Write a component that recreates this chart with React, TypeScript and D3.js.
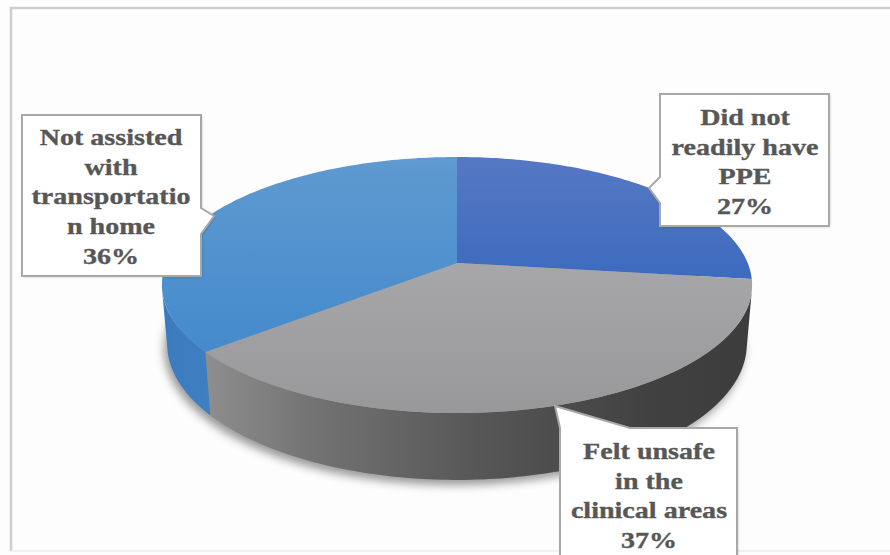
import React from "react";
import * as d3 from "d3";

// Survey responses, percent of respondents
const categories = [
  "Did not readily have PPE",
  "Felt unsafe in the clinical areas",
  "Not assisted with transportation home",
];
const values = [27, 37, 36];
// Wrapped label text for each category (the percentage line is appended from values)
const labelLines = [
  ["Did not", "readily have", "PPE"],
  ["Felt unsafe", "in the", "clinical areas"],
  ["Not assisted", "with", "transportatio", "n home"],
];

const W = 890;
const H = 555;

// Perspective camera for the tilted pie
const CX = 457;
const CY = 263;
const FX = 1532;
const FY = 1549;
const DIST = 5.27;
const ELEV = (25 * Math.PI) / 180;
const THICK = 0.2225;
const cosE = Math.cos(ELEV);
const sinE = Math.sin(ELEV);

function project(X: number, Y: number, Z: number): [number, number] {
  const d = DIST + Y * cosE - Z * sinE;
  return [CX + (FX * X) / d, CY - (FY * (Y * sinE + Z * cosE)) / d];
}
// angle a runs clockwise from 12 o'clock (far side of the disc)
const rim = (a: number, z: number): [number, number] =>
  project(Math.sin(a), Math.cos(a), z);

// the outer wall faces the camera where cos(a) < -1/(D cos e)
const visA0 = Math.acos(-1 / (DIST * cosE));
const visA1 = 2 * Math.PI - visA0;

const line = d3.line<[number, number]>().x((p) => p[0]).y((p) => p[1]);

function arcPts(a0: number, a1: number, z: number): [number, number][] {
  const n = Math.max(2, Math.ceil(((a1 - a0) * 180) / Math.PI));
  return d3.range(n + 1).map((i) => rim(a0 + ((a1 - a0) * i) / n, z));
}

const pie = d3
  .pie<number>()
  .sort(null)
  .startAngle(0)
  .endAngle(2 * Math.PI)
  .value((d) => d);
const slices = pie(values);

const topFill = ["url(#gTop0)", "url(#gTop1)", "url(#gTop2)"];
const wallFill = ["#3a68b8", "url(#gWall1)", "url(#gWall2)"];

// Callout boxes: body rectangle plus pointer outline
const callouts = [
  {
    cx: 745,
    y0: 125,
    path: "M660,94 L829,94 L829,226 L660,226 L660,203 L649,188 L660,177 Z",
  },
  {
    cx: 649,
    y0: 459,
    path: "M560,428 L555,406 L630,428 L737,428 L737,562 L560,562 Z",
  },
  {
    cx: 111,
    y0: 145,
    path: "M22,115 L201,115 L201,208 L214,216 L201,234 L201,276 L22,276 Z",
  },
];
const LINE_STEP = 29.7;

export default function App() {
  const walls = slices
    .map((s, i) => {
      const a0 = Math.max(s.startAngle, visA0);
      const a1 = Math.min(s.endAngle, visA1);
      if (a1 <= a0) return null;
      const pts = [...arcPts(a0, a1, 0), ...arcPts(a0, a1, -THICK).reverse()];
      return <path key={"w" + i} d={line(pts) + "Z"} fill={wallFill[i]} />;
    })
    .filter(Boolean);

  const tops = slices.map((s, i) => {
    const pts = [project(0, 0, 0), ...arcPts(s.startAngle, s.endAngle, 0)];
    return <path key={"t" + i} d={line(pts) + "Z"} fill={topFill[i]} />;
  });

  const shadowPts = arcPts(0, 2 * Math.PI, -THICK);

  return (
    <svg
      width={W}
      height={H}
      style={{ position: "absolute", left: 0, top: 0, background: "#fdfdfd" }}
    >
      <defs>
        <linearGradient id="gTop0" gradientUnits="userSpaceOnUse" x1="0" y1="157" x2="0" y2="285">
          <stop offset="0" stopColor="#5678c3" />
          <stop offset="1" stopColor="#3b6abe" />
        </linearGradient>
        <linearGradient id="gTop1" gradientUnits="userSpaceOnUse" x1="0" y1="263" x2="0" y2="415">
          <stop offset="0" stopColor="#a7a7a9" />
          <stop offset="1" stopColor="#98989a" />
        </linearGradient>
        <linearGradient id="gTop2" gradientUnits="userSpaceOnUse" x1="0" y1="157" x2="0" y2="355">
          <stop offset="0" stopColor="#5f9ad0" />
          <stop offset="1" stopColor="#448acc" />
        </linearGradient>
        <linearGradient id="gWall1" gradientUnits="userSpaceOnUse" x1="206" y1="0" x2="760" y2="0">
          <stop offset="0" stopColor="#8e8e8e" />
          <stop offset="0.2" stopColor="#727272" />
          <stop offset="0.5" stopColor="#565656" />
          <stop offset="0.8" stopColor="#414141" />
          <stop offset="1" stopColor="#3c3c3c" />
        </linearGradient>
        <linearGradient id="gWall2" gradientUnits="userSpaceOnUse" x1="160" y1="0" x2="215" y2="0">
          <stop offset="0" stopColor="#3b7abd" />
          <stop offset="1" stopColor="#3e80c3" />
        </linearGradient>
        <filter id="soft" x="-20%" y="-20%" width="140%" height="140%">
          <feGaussianBlur stdDeviation="5" />
        </filter>
        <filter id="boxShadow" x="-10%" y="-10%" width="120%" height="120%">
          <feGaussianBlur stdDeviation="1.5" />
        </filter>
      </defs>

      {/* chart area frame */}
      <path d="M11,551 L11,8 L900,8" fill="none" stroke="#cdcdcd" strokeWidth={2.5} />
      <line x1={11} y1={551} x2={900} y2={551} stroke="#ededed" strokeWidth={1.5} />

      {/* drop shadow under the disc */}
      <path
        d={line(shadowPts) + "Z"}
        transform="translate(-3,5)"
        fill="#000"
        opacity={0.4}
        filter="url(#soft)"
      />

      {walls}
      {tops}

      {callouts.map((c, i) => {
        const lines = [...labelLines[i], `${values[i]}%`];
        return (
          <g key={"c" + i}>
            <path d={c.path} fill="#000" opacity={0.18} transform="translate(1,1)" filter="url(#boxShadow)" />
            <path d={c.path} fill="#ffffff" stroke="#a8a8a8" strokeWidth={2} />
            <g transform={`translate(${c.cx},0) scale(1.17,1)`}>
              {lines.map((t, j) => (
                <text
                  key={j}
                  x={0}
                  y={c.y0 + j * LINE_STEP}
                  textAnchor="middle"
                  fontFamily="'Liberation Serif', 'Times New Roman', serif"
                  fontWeight="bold"
                  fontSize={24}
                  fill="#575757"
                  stroke="#575757"
                  strokeWidth={0.35}
                >
                  {t}
                </text>
              ))}
            </g>
          </g>
        );
      })}
    </svg>
  );
}
